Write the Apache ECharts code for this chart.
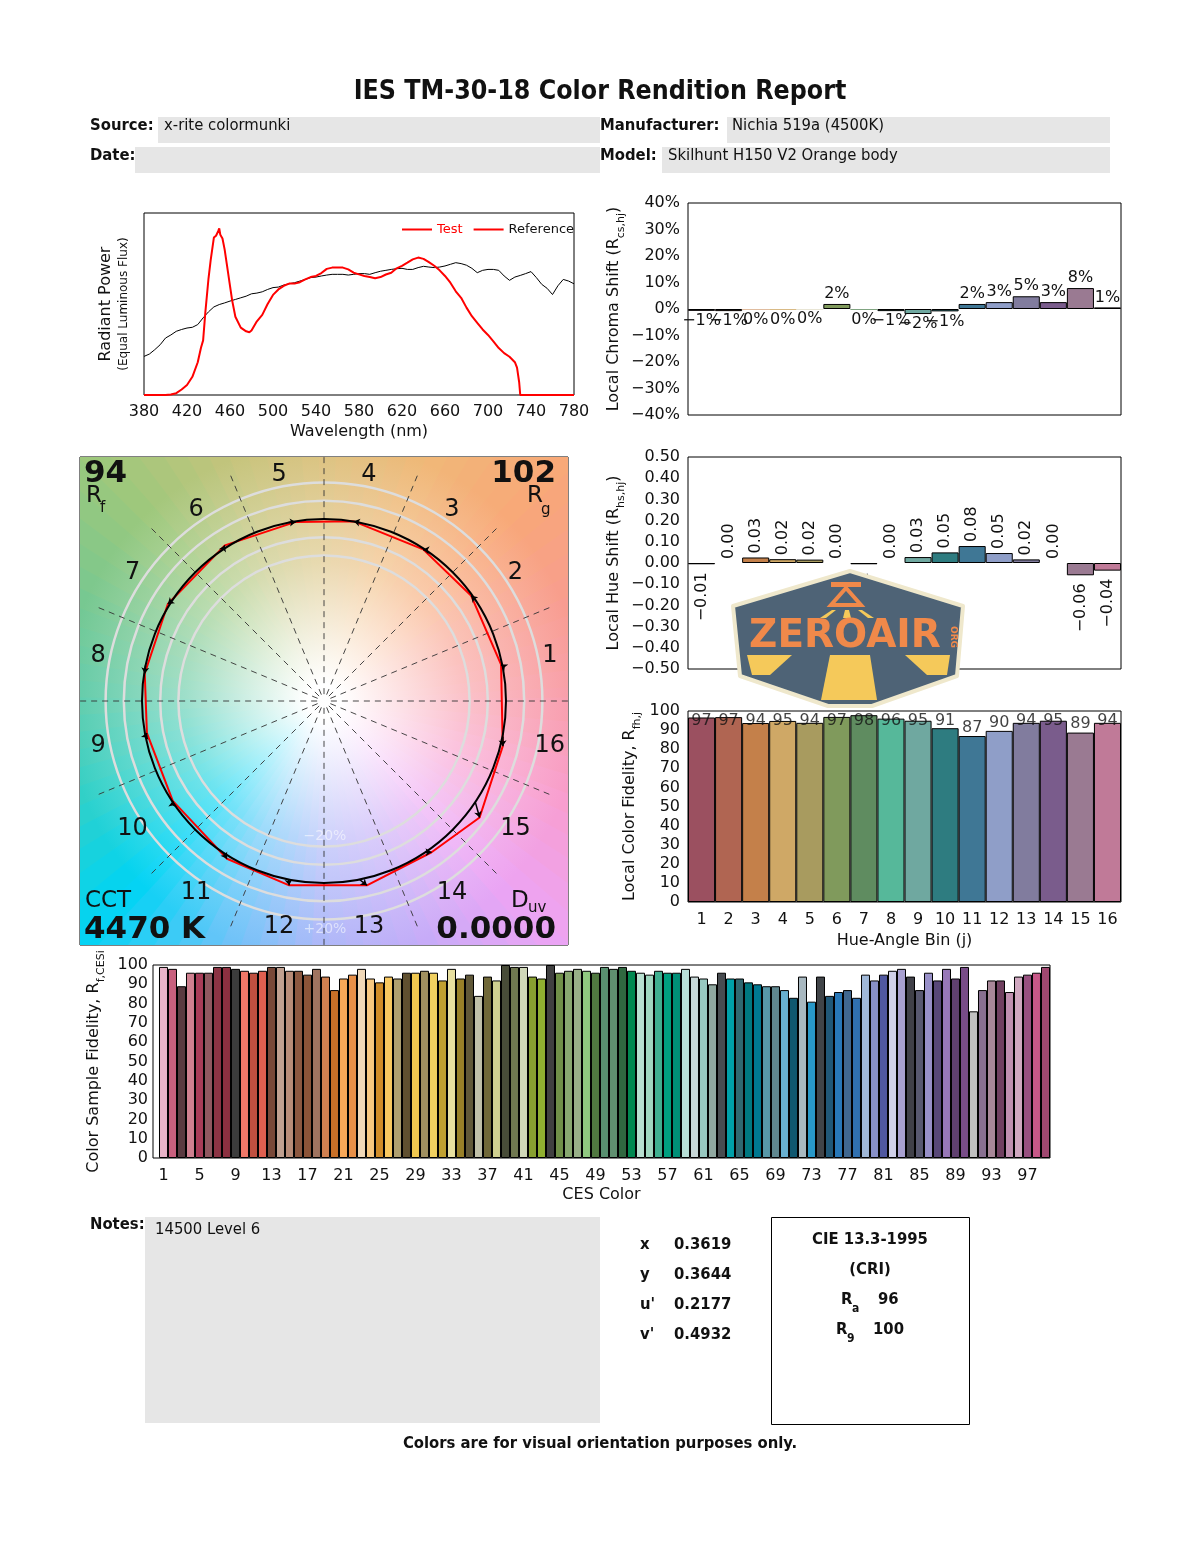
<!DOCTYPE html>
<html>
<head>
<meta charset="utf-8">
<title>IES TM-30-18 Color Rendition Report</title>
<script src="https://cdn.jsdelivr.net/npm/echarts@6.0.0/dist/echarts.min.js"></script>
<style>
html, body { margin: 0; padding: 0; background: #fff; }
#main { width: 1200px; height: 1550px; }
</style>
</head>
<body>
<div id="main"></div>
<script>
// ---- data ----
var specWl = [380,385,390,395,400,405,410,415,420,425,430,435,440,445,450,455,460,465,470,475,
  480,485,490,495,500,505,510,515,520,525,530,535,540,545,550,555,560,565,570,575,
  580,585,590,595,600,605,610,615,620,625,630,635,640,645,650,655,660,665,670,675,
  680,685,690,695,700,705,710,715,720,725,730,735,740,745,750,755,760,765,770,775,780];
var refPower = [.212,.225,.249,.276,.313,.33,.35,.36,.368,.372,
  .387,.424,.457,.484,.497,.506,.516,.525,.534,.543,
  .556,.56,.567,.58,.59,.593,.604,.611,.617,.626,
  .635,.645,.648,.654,.659,.663,.663,.663,.659,.663,
  .667,.667,.663,.672,.68,.685,.69,.694,.696,.69,
  .69,.70,.707,.703,.70,.703,.709,.718,.727,.722,
  .713,.696,.672,.685,.69,.69,.685,.654,.63,.648,
  .657,.667,.678,.645,.608,.586,.552,.60,.635,.626,.611];
var testWl = [380,385,390,395,400,405,410,415,420,425,430,433,435,437,440,442,445,447,449,450,
  451,453,455,457,460,462,465,470,475,478,480,485,490,495,500,505,510,515,520,525,
  530,535,540,545,550,555,560,565,570,575,580,585,590,595,600,605,610,615,620,625,
  630,635,640,645,650,655,660,665,670,675,680,685,690,695,700,705,710,715,720,725,
  727,729,730,780];
var testPower = [0,0,0,0,0,0.003,0.01,0.03,0.055,0.10,0.18,0.26,0.30,0.45,0.64,0.74,0.865,0.875,0.90,0.915,
  0.88,0.86,0.80,0.72,0.60,0.52,0.43,0.37,0.35,0.345,0.355,0.405,0.44,0.50,0.55,0.58,0.60,0.612,0.612,0.62,
  0.635,0.648,0.654,0.67,0.693,0.70,0.70,0.70,0.69,0.672,0.663,0.654,0.648,0.642,0.648,0.662,0.672,0.696,0.71,0.727,
  0.745,0.755,0.748,0.73,0.71,0.685,0.654,0.617,0.57,0.534,0.48,0.433,0.396,0.36,0.33,0.295,0.258,0.23,0.21,0.18,
  0.15,0.07,0,0];

var binLabels = ['1','2','3','4','5','6','7','8','9','10','11','12','13','14','15','16'];
var chromaShift = [-0.7,-0.8,-0.2,-0.3,-0.1,1.9,-0.3,-0.8,-1.9,-0.9,1.9,2.6,4.8,2.6,7.9,0.6];   // %
var hueShift = [-0.006,0,0.026,0.018,0.016,0,-0.006,0,0.028,0.05,0.08,0.047,0.017,0,-0.058,-0.036];
var localFidelity = [96.6,96.8,93.7,94.8,93.8,96.9,97.8,96.0,94.9,91.0,86.9,89.6,93.8,94.9,88.7,93.8];

// test vertices of the colour vector graphic (reference circle radius = 1)
var testX = [0.973,0.809,0.545,0.164,-0.155,-0.545,-0.858,-0.985,-0.973,-0.831,-0.533,-0.191,0.236,0.591,0.855,0.982];
var testY = [0.200,0.578,0.833,0.987,0.984,0.855,0.533,0.151,-0.176,-0.549,-0.867,-1.013,-1.013,-0.831,-0.640,-0.249];

var cesFidelity = [99,98,89,96,96,96,99,99,98,97,
  96,97,99,99,97,97,95,98,94,87,
  93,95,98,93,91,94,93,96,96,97,
  96,92,98,93,95,84,94,92,100,99,
  99,94,93,100,96,97,98,97,96,99,
  98,99,97,96,95,97,96,96,98,94,
  93,90,96,93,93,91,90,89,89,87,
  83,94,81,94,84,86,87,83,95,92,
  95,97,98,94,87,96,92,98,93,99,
  76,87,92,92,86,94,95,96,99];
var cesTicks = [1,5,9,13,17,21,25,29,33,37,41,45,49,53,57,61,65,69,73,77,81,85,89,93,97];

// ---- colours ----
var binColors = ['#9b5060','#b06552','#c4804a','#cfa866','#a89b5f','#809a5c','#5f8c60','#56b89a',
  '#6fa8a0','#2e7c80','#3f7795','#8f9ec8','#817c9e','#7a5c8c','#9a7a92','#c07a98'];
var cesColors = ['#e8b4c8','#c8607e','#5a3a40','#d08090','#a83c58','#905860','#8c3444','#8c3040','#3c3c3c','#f07868',
  '#c05040','#e06050','#784838','#c0a090','#b88c78','#8c5840','#8c5438','#a07460','#d08050','#c87028',
  '#f8a858','#e89048','#f0d8b8','#f8c880','#d08c28','#f8c860','#b0a070','#605030','#f0c850','#a09060',
  '#f0d060','#c0a030','#e8e0a0','#988028','#605838','#c0c0a8','#706838','#d0d090','#484c38','#707850',
  '#d0d8b8','#88a030','#90b030','#404040','#709048','#88a870','#98b088','#90c880','#507840','#589070',
  '#609070','#306840','#008850','#b8e0d0','#a0d8c0','#40b090','#00a080','#009078','#b8e0d8','#c8d8d8',
  '#98c8c0','#90a8a0','#484c50','#00a0a8','#306870','#007880','#007890','#5898a8','#608890','#68b0d0',
  '#105870','#a8b8c0','#2898c8','#404448','#205878','#2878b8','#406890','#3070b0','#a0b8d8','#8890c8',
  '#5058a0','#d0d0e8','#a8a0d0','#404048','#585870','#9890c8','#584878','#9878b8','#604070','#784c88',
  '#c0c0c0','#887090','#a88898','#704060','#c090b0','#d0a8c0','#985080','#c85888','#a04870'];
// background hue of the vector graphic, every 22.5 deg starting at the right, counter-clockwise
var hueAnchors = ['#f89aa8','#f89c90','#f8a878','#f0b878','#dcc07c','#c4c47c','#9cc87c','#78c890',
  '#5ccaa8','#30d0c8','#00d4f4','#68c4f8','#a8b4f8','#c4acf8','#eca4f4','#f89ed0'];

var TXT = '#111';
var TICK = 'DejaVu Sans';
var HEAD = '"DejaVu Sans Condensed", "DejaVu Sans", sans-serif';
var R5 = 1.3407;   // half width of the vector graphic in reference-radius units
var NS = 90;       // background wedges

function minus(s) { return s.replace('-', '\u2212'); }
function hexRgb(h) { return [parseInt(h.substr(1, 2), 16), parseInt(h.substr(3, 2), 16), parseInt(h.substr(5, 2), 16)]; }
function rgbStr(a) { return 'rgb(' + a.map(function (c) { return Math.round(c); }).join(',') + ')'; }
function hueAt(deg) {
    var t = (((deg % 360) + 360) % 360) / 22.5;
    var i0 = Math.floor(t) % 16, i1 = (i0 + 1) % 16, f = t - Math.floor(t);
    var a = hexRgb(hueAnchors[i0]), b = hexRgb(hueAnchors[i1]);
    return [a[0] + (b[0] - a[0]) * f, a[1] + (b[1] - a[1]) * f, a[2] + (b[2] - a[2]) * f];
}
function tint(rgb, k) { return rgb.map(function (c) { return 255 + (c - 255) * k; }); }

// axis name with a subscript (zrender places 'bottom' tokens at the line bottom)
function subRich(size) {
    return {
        n: { fontSize: size, fontFamily: TICK, color: TXT, lineHeight: 21, verticalAlign: 'top' },
        s: { fontSize: 11, fontFamily: TICK, color: TXT, lineHeight: 21, verticalAlign: 'bottom' }
    };
}

var chart = echarts.init(document.getElementById('main'), null, { renderer: 'canvas' });

var axisOff = { axisLine: { show: false }, axisTick: { show: false }, splitLine: { show: false } };
function ax(o) { return Object.assign({}, axisOff, o); }

var binIdx = binLabels.map(function (b, i) { return i; });

var option = {
    animation: false,
    textStyle: { fontFamily: TICK },
    legend: {
        left: 397, top: 218, itemWidth: 30, itemHeight: 2, itemGap: 11, icon: 'rect',
        textStyle: { fontSize: 13, color: TXT, fontFamily: TICK },
        data: [
            { name: 'Test', textStyle: { color: '#ff0000' } },
            { name: 'Reference', itemStyle: { color: '#ff0000' } }
        ]
    },
    grid: [
        { left: 144, top: 213, width: 430, height: 182, show: true, borderColor: '#000', borderWidth: 1 },
        { left: 688, top: 203, width: 433, height: 212, show: true, borderColor: '#000', borderWidth: 1 },
        { left: 688, top: 457, width: 433, height: 212, show: true, borderColor: '#000', borderWidth: 1 },
        { left: 688, top: 711, width: 433, height: 191, show: true, borderColor: '#000', borderWidth: 1 },
        { left: 153, top: 965, width: 897, height: 193, show: true, borderColor: '#000', borderWidth: 1 },
        { left: 80, top: 457, width: 488, height: 488, show: true, borderColor: '#000', borderWidth: 1 }
    ],
    xAxis: [
        ax({ gridIndex: 0, type: 'value', min: 380, max: 780, interval: 40,
            axisLabel: { fontSize: 16, color: TXT, margin: 9, showMinLabel: true, showMaxLabel: true },
            name: 'Wavelength (nm)', nameLocation: 'middle', nameGap: 29,
            nameTextStyle: { fontSize: 16, color: TXT } }),
        { gridIndex: 1, type: 'category', data: binLabels, show: false },
        { gridIndex: 2, type: 'category', data: binLabels, show: false },
        ax({ gridIndex: 3, type: 'category', data: binLabels,
            axisLabel: { fontSize: 16, color: TXT, margin: 10, interval: 0 },
            name: 'Hue-Angle Bin (j)', nameLocation: 'middle', nameGap: 31,
            nameTextStyle: { fontSize: 16, color: TXT } }),
        ax({ gridIndex: 4, type: 'value', min: -0.166, max: 99.5,
            axisLabel: { fontSize: 16, color: TXT, margin: 10, customValues: cesTicks },
            name: 'CES Color', nameLocation: 'middle', nameGap: 29,
            nameTextStyle: { fontSize: 16, color: TXT } }),
        { gridIndex: 5, type: 'value', min: -R5, max: R5, show: false }
    ],
    yAxis: [
        ax({ gridIndex: 0, type: 'value', min: 0, max: 1, axisLabel: { show: false },
            name: '{a|Radiant Power}\n{b|(Equal Luminous Flux)}', nameLocation: 'middle', nameRotate: 90, nameGap: 12,
            nameTextStyle: { rich: {
                a: { fontSize: 16, fontFamily: TICK, color: TXT, lineHeight: 20 },
                b: { fontSize: 12, fontFamily: TICK, color: TXT, lineHeight: 16 } } } }),
        ax({ gridIndex: 1, type: 'value', min: -40, max: 40, interval: 10,
            axisLabel: { fontSize: 16, color: TXT, margin: 8, formatter: function (v) { return minus(v + '%'); } },
            name: '{n|Local Chroma Shift (R}{s|cs,hj}{n|)}', nameLocation: 'middle', nameRotate: 90, nameGap: 54,
            nameTextStyle: { rich: subRich(16) } }),
        ax({ gridIndex: 2, type: 'value', min: -0.5, max: 0.5, interval: 0.1,
            axisLabel: { fontSize: 16, color: TXT, margin: 8, formatter: function (v) {
                if (Math.abs(v) < 1e-9) return '0.00';
                return minus(v.toFixed(2)); } },
            name: '{n|Local Hue Shift (R}{s|hs,hj}{n|)}', nameLocation: 'middle', nameRotate: 90, nameGap: 54,
            nameTextStyle: { rich: subRich(16) } }),
        ax({ gridIndex: 3, type: 'value', min: 0, max: 100, interval: 10,
            axisLabel: { fontSize: 16, color: TXT, margin: 8 },
            name: '{n|Local Color Fidelity, R}{s|fh,j}', nameLocation: 'middle', nameRotate: 90, nameGap: 45,
            nameTextStyle: { rich: subRich(16) } }),
        ax({ gridIndex: 4, type: 'value', min: 0, max: 100, interval: 10,
            axisLabel: { fontSize: 16, color: TXT, margin: 5 },
            name: '{n|Color Sample Fidelity, R}{s|f,CESi}', nameLocation: 'middle', nameRotate: 90, nameGap: 39,
            nameTextStyle: { rich: subRich(16) } }),
        { gridIndex: 5, type: 'value', min: -R5, max: R5, show: false }
    ],
    series: [],
    graphic: []
};

// ---- spectrum ----
option.series.push({
    name: 'Reference', type: 'line', xAxisIndex: 0, yAxisIndex: 0, symbol: 'none',
    lineStyle: { color: '#000', width: 1 }, itemStyle: { color: '#000' },
    data: specWl.map(function (w, i) { return [w, refPower[i]]; })
});
option.series.push({
    name: 'Test', type: 'line', xAxisIndex: 0, yAxisIndex: 0, symbol: 'none',
    lineStyle: { color: '#ff0000', width: 2 }, itemStyle: { color: '#ff0000' },
    data: testWl.map(function (w, i) { return [w, testPower[i]]; })
});

// ---- local chroma shift ----
option.series.push({
    type: 'bar', xAxisIndex: 1, yAxisIndex: 1, barWidth: '100%',
    itemStyle: { borderColor: '#000', borderWidth: 1 },
    label: { show: true, fontSize: 16, color: TXT, distance: 2,
        formatter: function (p) { var v = Math.round(p.value); return (v < 0 ? '\u2212' : '') + Math.abs(v) + '%'; } },
    data: chromaShift.map(function (v, i) {
        return { value: v, itemStyle: { color: binColors[i], borderWidth: Math.abs(v) < 0.5 ? 0 : 1 },
            label: { position: v < 0 ? 'bottom' : 'top' } };
    })
});

// ---- local hue shift ----
option.series.push({
    type: 'bar', xAxisIndex: 2, yAxisIndex: 2, barWidth: '100%',
    itemStyle: { borderColor: '#000', borderWidth: 1 },
    label: { show: true, fontSize: 16, color: TXT, rotate: 90,
        formatter: function (p) { var v = p.value; return (v < -0.0049 ? '\u2212' : '') + Math.abs(v).toFixed(2); } },
    data: hueShift.map(function (v, i) {
        return { value: v, itemStyle: { color: binColors[i], borderWidth: v === 0 ? 0 : 1 },
            label: v < 0 ? { position: 'bottom', align: 'right', verticalAlign: 'middle', distance: 8 }
                         : { position: 'top', align: 'left', verticalAlign: 'middle', distance: 4 } };
    })
});

// ---- local colour fidelity ----
option.series.push({
    type: 'bar', xAxisIndex: 3, yAxisIndex: 3, barWidth: '100%',
    itemStyle: { borderColor: '#000', borderWidth: 1 },
    data: localFidelity.map(function (v, i) { return { value: v, itemStyle: { color: binColors[i] } }; })
});
option.series.push({
    type: 'scatter', xAxisIndex: 3, yAxisIndex: 3, symbolSize: 1, itemStyle: { color: 'rgba(0,0,0,0)' },
    label: { show: true, position: 'top', distance: 0, fontSize: 16, color: TXT,
        formatter: function (p) { return Math.round(p.value[2]); } },
    data: localFidelity.map(function (v, i) { return [i, Math.min(v, 90.5), v]; }),
    z: 5
});

// ---- CES fidelity ----
option.series.push({
    type: 'bar', xAxisIndex: 4, yAxisIndex: 4, barWidth: 9,
    itemStyle: { borderColor: '#000', borderWidth: 1 },
    data: cesFidelity.map(function (v, i) { return { value: [i + 1, v], itemStyle: { color: cesColors[i] } }; })
});

// ---- colour vector graphic ----
var wedges = [];
for (var k = 0; k < NS; k++) wedges.push([k, 0]);
option.series.push({
    type: 'custom', xAxisIndex: 5, yAxisIndex: 5, clip: true, silent: true, z: 1,
    data: wedges,
    renderItem: function (params, api) {
        var i = api.value(0), step = 360 / NS;
        var a1 = (i * step - 0.8) * Math.PI / 180, a2 = ((i + 1) * step + 0.8) * Math.PI / 180;
        var col = hueAt((i + 0.5) * step);
        var c = api.coord([0, 0]);
        return {
            type: 'sector',
            shape: { cx: c[0], cy: c[1], r0: 0, r: 360, startAngle: -a2, endAngle: -a1, clockwise: true },
            style: { fill: new echarts.graphic.RadialGradient(c[0], c[1], 345, [
                { offset: 0, color: '#ffffff' }, { offset: 0.05, color: '#ffffff' },
                { offset: 0.4, color: rgbStr(tint(col, 0.6)) }, { offset: 0.75, color: rgbStr(col) },
                { offset: 1, color: rgbStr(col) }], true) }
        };
    }
});
// grey rings at -20 %, -10 %, +10 %, +20 %
option.series.push({
    type: 'custom', xAxisIndex: 5, yAxisIndex: 5, clip: true, silent: true, z: 2,
    data: [[0.8, 0], [0.9, 0], [1.1, 0], [1.2, 0]],
    renderItem: function (params, api) {
        var c = api.coord([0, 0]), e = api.coord([api.value(0), 0]);
        return { type: 'circle', shape: { cx: c[0], cy: c[1], r: e[0] - c[0] },
            style: { fill: 'none', stroke: '#dddddd', lineWidth: 2.5 } };
    }
});
// dashed bin boundaries, drawn from the rim inwards and stopped short of the centre
option.series.push({
    type: 'custom', xAxisIndex: 5, yAxisIndex: 5, clip: true, silent: true, z: 3,
    data: binIdx.map(function (i) { return [i, 0]; }),
    renderItem: function (params, api) {
        var a = api.value(0) * 22.5 * Math.PI / 180;
        var p = api.coord([1.34 * Math.cos(a), 1.34 * Math.sin(a)]);
        var q = api.coord([0.03 * Math.cos(a), 0.03 * Math.sin(a)]);
        return { type: 'line', shape: { x1: p[0], y1: p[1], x2: q[0], y2: q[1] },
            style: { stroke: '#333', lineWidth: 0.9, lineDash: [6, 5] } };
    }
});
// test polygon
var poly = testX.map(function (x, i) { return [x, testY[i]]; });
poly.push(poly[0]);
option.series.push({
    type: 'line', xAxisIndex: 5, yAxisIndex: 5, symbol: 'none', z: 4, silent: true,
    lineStyle: { color: '#ff0000', width: 2 }, data: poly
});
// reference circle
option.series.push({
    type: 'custom', xAxisIndex: 5, yAxisIndex: 5, clip: true, silent: true, z: 5,
    data: [[1, 0]],
    renderItem: function (params, api) {
        var c = api.coord([0, 0]), e = api.coord([api.value(0), 0]);
        return { type: 'circle', shape: { cx: c[0], cy: c[1], r: e[0] - c[0] },
            style: { fill: 'none', stroke: '#000', lineWidth: 2 } };
    }
});
// arrows from reference bin centre to test vertex
option.series.push({
    type: 'lines', coordinateSystem: 'cartesian2d', xAxisIndex: 5, yAxisIndex: 5, z: 6, silent: true,
    symbol: ['none', 'arrow'], symbolSize: [0, 6],
    lineStyle: { color: '#000', width: 1.5, opacity: 1 },
    data: testX.map(function (x, i) {
        var a = (i + 0.5) * 22.5 * Math.PI / 180;
        return { coords: [[Math.cos(a), Math.sin(a)], [x, testY[i]]] };
    })
});
// bin numbers
option.series.push({
    type: 'custom', xAxisIndex: 5, yAxisIndex: 5, clip: false, silent: true, z: 7,
    data: binIdx.map(function (i) { return [i, 0]; }),
    renderItem: function (params, api) {
        var i = api.value(0), a = (i + 0.5) * 22.5 * Math.PI / 180;
        var p = api.coord([1.265 * Math.cos(a), 1.265 * Math.sin(a)]);
        return { type: 'text', x: p[0], y: p[1],
            style: { text: binLabels[i], fill: TXT, fontSize: 24, fontFamily: TICK,
                align: 'center', verticalAlign: 'middle', textAlign: 'center', textVerticalAlign: 'middle' } };
    }
});

// ---- page text and boxes ----
function txt(x, y, s, font, align, color) {
    return { type: 'text', x: x, y: y, z: 100,
        style: { text: s, font: font, fill: color || TXT, textAlign: align || 'left', textVerticalAlign: 'middle',
            align: align || 'left', verticalAlign: 'middle' } };
}
function box(x, y, w, h, fill, stroke) {
    return { type: 'rect', z: 90, shape: { x: x, y: y, width: w, height: h },
        style: { fill: fill || 'none', stroke: stroke || null, lineWidth: 1 } };
}
var G = option.graphic;
var B16 = 'bold 16.5px ' + HEAD, N16 = '16.5px ' + HEAD;
G.push(txt(600, 92, 'IES TM-30-18 Color Rendition Report', 'bold 26.5px ' + HEAD, 'center'));
G.push(box(158, 117, 442, 26, '#e6e6e6'));
G.push(box(135, 147, 465, 26, '#e6e6e6'));
G.push(box(727, 117, 383, 26, '#e6e6e6'));
G.push(box(662, 147, 448, 26, '#e6e6e6'));
G.push(txt(90, 126, 'Source:', B16));
G.push(txt(164, 126, 'x-rite colormunki', N16));
G.push(txt(90, 156, 'Date:', B16));
G.push(txt(600, 126, 'Manufacturer:', B16));
G.push(txt(732, 126, 'Nichia 519a (4500K)', N16));
G.push(txt(600, 156, 'Model:', B16));
G.push(txt(668, 156, 'Skilhunt H150 V2 Orange body', N16));

G.push(txt(90, 1225, 'Notes:', B16));
G.push(box(145, 1217, 455, 206, '#e6e6e6'));
G.push(txt(155, 1230, '14500 Level 6', N16));
G.push(txt(640, 1245, 'x', B16)); G.push(txt(674, 1245, '0.3619', B16));
G.push(txt(640, 1275, 'y', B16)); G.push(txt(674, 1275, '0.3644', B16));
G.push(txt(640, 1305, "u'", B16)); G.push(txt(674, 1305, '0.2177', B16));
G.push(txt(640, 1335, "v'", B16)); G.push(txt(674, 1335, '0.4932', B16));
G.push(box(771.5, 1217.5, 198, 207, 'none', '#000'));
G.push(txt(870, 1240, 'CIE 13.3-1995', B16, 'center'));
G.push(txt(870, 1270, '(CRI)', B16, 'center'));
G.push(txt(841, 1300, 'R', B16)); G.push(txt(852, 1309, 'a', 'bold 12px ' + HEAD)); G.push(txt(878, 1300, '96', B16));
G.push(txt(836, 1330, 'R', B16)); G.push(txt(847, 1339, '9', 'bold 12px ' + HEAD)); G.push(txt(873, 1330, '100', B16));
G.push(txt(600, 1444, 'Colors are for visual orientation purposes only.', B16, 'center'));

// vector graphic annotations
var VB = 'bold 31px ' + TICK;
G.push(txt(84, 474, '94', VB));
G.push(txt(86, 496, 'R', '23px ' + TICK)); G.push(txt(100, 508, 'f', '15px ' + TICK));
G.push(txt(556, 474, '102', VB, 'right'));
G.push(txt(527, 496, 'R', '23px ' + TICK)); G.push(txt(541, 510, 'g', '15px ' + TICK));
G.push(txt(85, 901, 'CCT', '23px ' + TICK));
G.push(txt(84, 930, '4470 K', VB));
G.push(txt(511, 901, 'D', '23px ' + TICK)); G.push(txt(528, 908, 'uv', '15px ' + TICK));
G.push(txt(556, 930, '0.0000', VB, 'right'));
G.push(txt(325, 929, '+20%', '14px ' + TICK, 'center', 'rgba(255,255,255,0.55)'));
G.push(txt(325, 836, '\u221220%', '14px ' + TICK, 'center', 'rgba(255,255,255,0.55)'));

// watermark badge
G.push({
    type: 'group', z: 120, opacity: 0.95,
    children: [
        { type: 'polygon', z: 120, shape: { points: [[733, 606], [850, 571], [963, 606], [957, 676], [872, 706], [828, 706], [740, 676]] },
            style: { fill: '#4e6376', stroke: '#efe8cc', lineWidth: 4, lineJoin: 'round' } },
        { type: 'polygon', z: 121, shape: { points: [[747, 655], [792, 655], [770, 675], [752, 675]] }, style: { fill: '#f5c95a' } },
        { type: 'polygon', z: 121, shape: { points: [[830, 655], [870, 655], [877, 700], [821, 700]] }, style: { fill: '#f5c95a' } },
        { type: 'polygon', z: 121, shape: { points: [[905, 655], [950, 655], [947, 675], [927, 675]] }, style: { fill: '#f5c95a' } },
        { type: 'polygon', z: 121, shape: { points: [[820, 618], [832, 610], [836, 610], [826, 618]] }, style: { fill: '#f5c95a' } },
        { type: 'polygon', z: 121, shape: { points: [[843, 618], [845, 610], [849, 610], [851, 618]] }, style: { fill: '#f5c95a' } },
        { type: 'polygon', z: 121, shape: { points: [[868, 618], [858, 610], [862, 610], [874, 618]] }, style: { fill: '#f5c95a' } },
        { type: 'rect', z: 121, shape: { x: 831, y: 582, width: 30, height: 5 }, style: { fill: '#f0894a' } },
        { type: 'polygon', z: 121, shape: { points: [[846, 588], [861, 605], [831, 605]] }, style: { fill: 'none', stroke: '#f0894a', lineWidth: 4 } },
        { type: 'text', z: 122, x: 845, y: 637,
            style: { text: 'ZEROAIR', font: '900 39px ' + TICK, fill: '#f0894a', textAlign: 'center', textVerticalAlign: 'middle',
                align: 'center', verticalAlign: 'middle' } },
        { type: 'text', z: 122, x: 953, y: 637, rotation: -Math.PI / 2,
            style: { text: 'ORG', font: 'bold 9px ' + TICK, fill: '#f0894a', textAlign: 'center', textVerticalAlign: 'middle',
                align: 'center', verticalAlign: 'middle' } }
    ]
});

chart.setOption(option);
</script>
</body>
</html>
